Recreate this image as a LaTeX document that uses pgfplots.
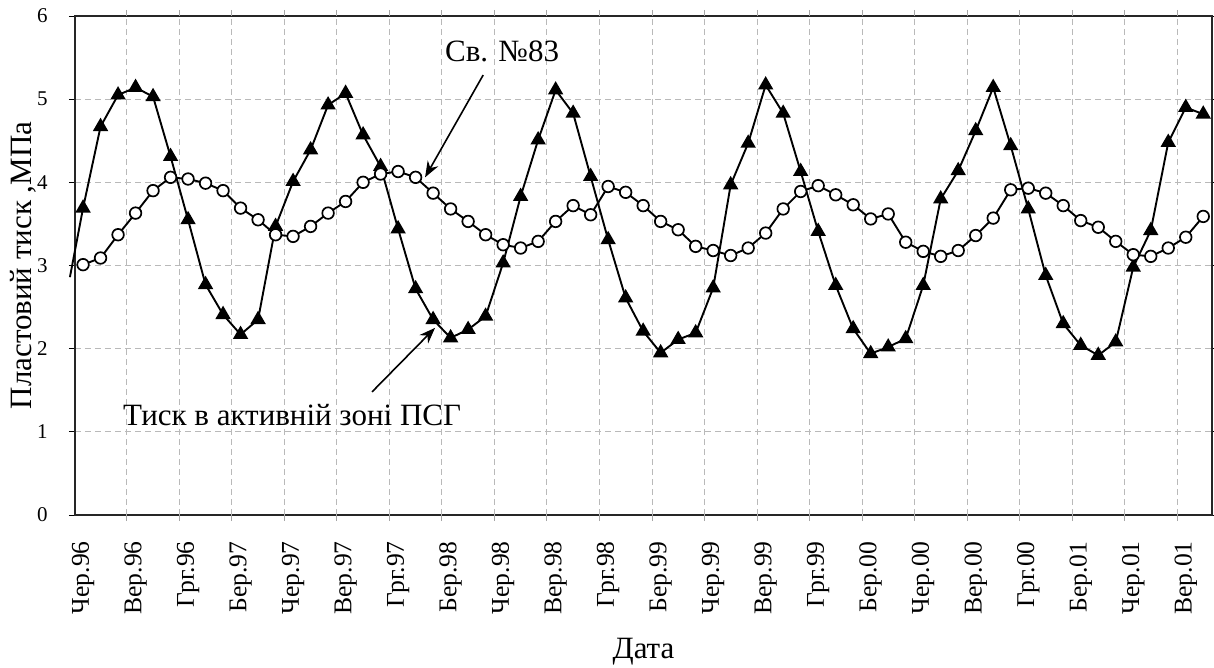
\documentclass[border=0pt]{standalone}
\usepackage{fontspec}
\setmainfont{Liberation Serif}
\usepackage{pgfplots}
\pgfplotsset{compat=1.18}
\usepackage{pgfplotstable}
\usetikzlibrary{arrows.meta}

\pgfplotstableread{
i T C
0 3.69 3.01
1 4.67 3.09
2 5.05 3.37
3 5.14 3.63
4 5.03 3.90
5 4.31 4.06
6 3.55 4.04
7 2.77 3.99
8 2.41 3.90
9 2.17 3.69
10 2.35 3.55
11 3.47 3.37
12 4.01 3.35
13 4.39 3.47
14 4.93 3.63
15 5.07 3.77
16 4.57 4.00
17 4.19 4.10
18 3.44 4.13
19 2.72 4.06
20 2.35 3.87
21 2.13 3.68
22 2.23 3.53
23 2.39 3.37
24 3.03 3.25
25 3.83 3.21
26 4.51 3.29
27 5.11 3.53
28 4.83 3.72
29 4.07 3.61
30 3.31 3.95
31 2.61 3.88
32 2.21 3.72
33 1.95 3.53
34 2.11 3.43
35 2.19 3.23
36 2.73 3.18
37 3.97 3.12
38 4.47 3.21
39 5.17 3.39
40 4.83 3.68
41 4.13 3.89
42 3.41 3.96
43 2.76 3.85
44 2.24 3.73
45 1.94 3.56
46 2.02 3.62
47 2.12 3.28
48 2.76 3.17
49 3.80 3.11
50 4.14 3.18
51 4.62 3.36
52 5.14 3.57
53 4.44 3.91
54 3.68 3.93
55 2.88 3.87
56 2.30 3.72
57 2.04 3.54
58 1.92 3.46
59 2.08 3.29
60 2.98 3.13
61 3.42 3.11
62 4.48 3.21
63 4.90 3.34
64 4.82 3.59
}\datatable

\begin{document}
\begin{tikzpicture}
\useasboundingbox (-37.5pt,-76.5pt) rectangle (569.5pt,257.5pt);
\begin{axis}[
  scale only axis,
  width=568.5pt, height=249.5pt,
  at={(0pt,0pt)}, anchor=south west,
  xmin=-0.46, xmax=64.5,
  ymin=0, ymax=6,
  clip=false,
  axis line style={black!85, line width=0.8pt},
  ytick={0,1,2,3,4,5,6},
  ymajorgrids,
  ytick style={black, line width=0.4pt},
  major tick length=3pt,
  tick align=outside,
  grid style={gray!55, densely dashed, line width=0.4pt},
  xtick={0,3,...,63},
  xticklabels={Чер.96,Вер.96,Грг.96,Бер.97,Чер.97,Вер.97,Грг.97,Бер.98,Чер.98,Вер.98,Грг.98,Бер.99,Чер.99,Вер.99,Грг.99,Бер.00,Чер.00,Вер.00,Грг.00,Бер.01,Чер.01,Вер.01},
  xtick style={draw=none},
  xticklabel style={rotate=90, anchor=east, inner sep=0pt, font=\fontsize{12.8}{14}\selectfont},
  xticklabel shift=10pt,
  yticklabel style={inner sep=0pt, font=\fontsize{10.5}{12}\selectfont},
  yticklabel shift=10.5pt,
  /pgf/number format/assume math mode=true,
  extra x ticks={2.5,5.5,...,62.5},
  extra x tick labels={},
  extra x tick style={grid=major, xtick style={draw=gray!70, line width=0.4pt}, major tick length=3pt},
  xlabel={Дата},
  ylabel={Пластовий тиск ,МПа},
  every axis x label/.style={at={(axis description cs:0.5,0)}, yshift=-68.5pt, anchor=center, font=\fontsize{15.5}{17}\selectfont},
  every axis y label/.style={at={(axis description cs:0,0.5)}, xshift=-26pt, rotate=90, anchor=center, font=\fontsize{15.5}{17}\selectfont},
]
\addplot[black, line width=0.95pt, forget plot] coordinates {(-0.75,2.86) (0,3.69)};
\addplot[black, line width=0.95pt, mark=triangle*, mark size=3.5pt, mark options={fill=black, solid}] table[x=i, y=T] {\datatable};
\addplot[black, line width=0.95pt, mark=*, mark size=2.9pt, mark options={fill=white, solid, line width=0.85pt}] table[x=i, y=C] {\datatable};

\node[font=\fontsize{15.5}{17}\selectfont] at (axis cs:23.94,5.58) {Св. №83};
\draw[black, line width=0.8pt, -{Stealth[length=8pt,width=6pt]}] (axis cs:22.86,5.29) -- (axis cs:19.54,4.06);
\node[font=\fontsize{15.5}{17}\selectfont] at (axis cs:11.94,1.20) {Тиск в активній зоні ПСГ};
\draw[black, line width=0.8pt, -{Stealth[length=8pt,width=6pt]}] (axis cs:16.51,1.48) -- (axis cs:20.11,2.25);
\end{axis}
\end{tikzpicture}
\end{document}
